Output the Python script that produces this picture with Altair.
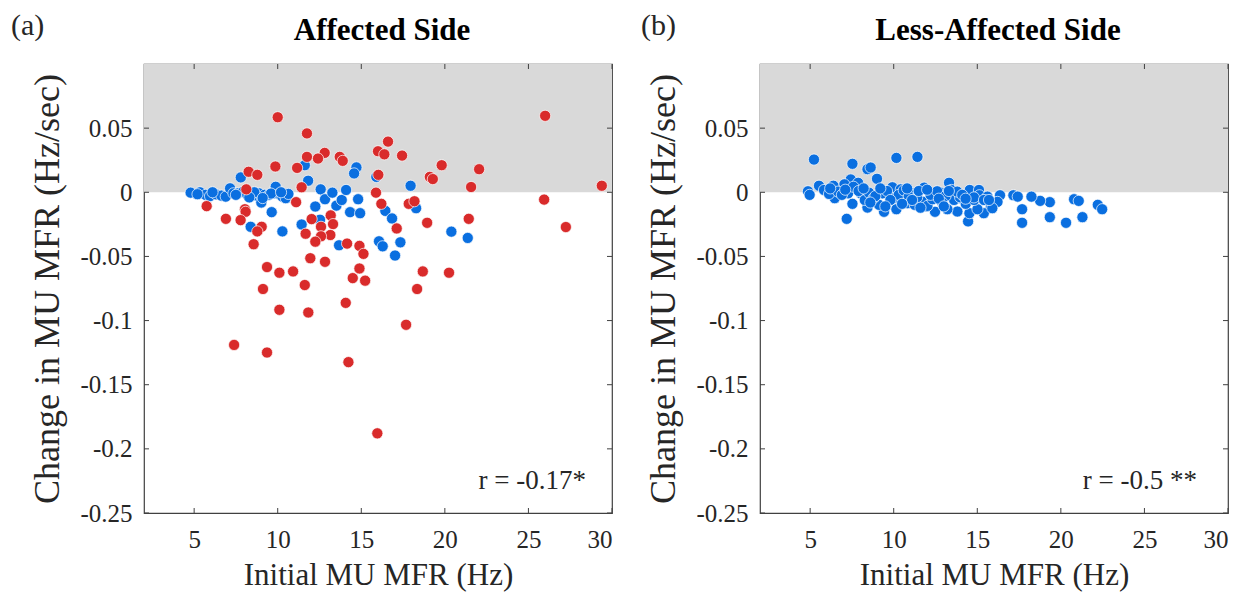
import altair as alt
import pandas as pd

# ---------------- data ----------------
x_ticks = [5, 10, 15, 20, 25, 30]
y_ticks = [0.05, 0, -0.05, -0.1, -0.15, -0.2, -0.25]

aff_red_x = [10.0, 11.75, 26.0, 16.6, 16.0, 16.38, 17.44, 12.81, 11.75, 12.41, 13.71, 13.89, 9.86, 11.16,
             19.81, 22.05, 8.26, 8.78, 16.02, 19.1, 19.28, 11.43, 8.12, 21.57, 29.39, 15.88, 25.94, 11.1,
             5.75, 16.2, 17.84, 18.18, 8.04, 8.08, 13.17, 6.9, 7.78, 21.43, 12.03, 13.31, 18.94, 9.04,
             8.78, 12.59, 27.24, 17.12, 11.67, 13.15, 12.59, 12.25, 8.56, 14.15, 14.89, 15.13, 11.95,
             12.83, 9.36, 10.1, 10.92, 14.89, 14.49, 15.23, 11.62, 18.68, 20.25, 9.12, 18.34, 14.07,
             10.1, 11.83, 17.68, 7.39, 9.36, 14.23, 15.96]
aff_red_y = [0.0585, 0.0459, 0.0596, 0.0395, 0.032, 0.0296, 0.0286, 0.0307, 0.0276, 0.0263, 0.0276, 0.0245,
             0.0201, 0.019, 0.0211, 0.018, 0.016, 0.0136, 0.0136, 0.012, 0.0103, 0.0039, 0.0023, 0.0041,
             0.0051, -0.0003, -0.0057, -0.0077, -0.0108, -0.009, -0.009, -0.007, -0.0132, -0.0152, -0.018,
             -0.0207, -0.0217, -0.0207, -0.0209, -0.0248, -0.0238, -0.0269, -0.0305, -0.0269, -0.0271,
             -0.0282, -0.0323, -0.0333, -0.0343, -0.0385, -0.0405, -0.04, -0.0418, -0.048, -0.0514,
             -0.0542, -0.0583, -0.0627, -0.0617, -0.0594, -0.0669, -0.0689, -0.0723, -0.0617, -0.0627,
             -0.0754, -0.0754, -0.0862, -0.0916, -0.0937, -0.1033, -0.119, -0.1249, -0.1324, -0.1879]

aff_blue_x = [4.79, 5.35, 5.69, 5.95, 6.31, 6.63, 6.89, 7.15, 7.35, 7.63, 7.79, 7.94, 8.18, 8.48, 8.74,
              8.88, 9.02, 9.22, 9.48, 9.64, 9.78, 9.88, 10.08, 10.28, 10.48, 10.64, 10.28, 8.38, 11.62,
              11.82, 12.57, 12.83, 13.27, 12.25, 12.53, 13.51, 13.83, 14.09, 14.33, 14.81, 14.93, 14.71,
              14.57, 11.43, 13.67, 16.06, 17.95, 16.44, 16.84, 18.28, 20.39, 21.37, 16.28, 17.34, 17.02,
              15.9, 5.2, 6.1, 7.5, 8.6, 9.6, 10.2, 8.3, 9.1]
aff_blue_y = [-0.0003, 0.0, -0.002, -0.003, -0.0016, -0.0026, -0.0034, 0.0031, -0.0008, -0.0008, 0.0116,
              0.0005, -0.002, -0.0008, -0.0026, -0.0008, -0.008, -0.002, -0.002, -0.0155, -0.0008, 0.0043,
              -0.0013, -0.0034, -0.0046, -0.0013, -0.0305, -0.0269, 0.0211, 0.009, 0.0023, -0.0054,
              -0.0003, -0.0111, -0.0214, -0.0104, -0.006, 0.0018, -0.0155, -0.0054, -0.0163, 0.0194,
              0.0147, -0.0251, -0.0413, -0.0382, 0.0051, -0.0145, -0.0204, -0.0124, -0.0307, -0.0356,
              -0.0421, -0.039, -0.0493, 0.012, -0.0015, 0.0, -0.002, 0.0, -0.001, 0.0, -0.004, -0.0045]

less_blue_x = [5.23, 7.53, 8.43, 8.62, 10.16, 11.42, 9.0, 13.31, 7.43, 7.05, 5.53, 6.39, 7.87, 7.19,
               14.45, 17.68, 20.31, 19.34, 21.29, 17.68, 22.21, 22.47, 20.79, 21.07, 19.34, 18.76, 18.24,
               17.16, 17.42, 16.36, 15.81, 15.39, 14.53, 13.81, 13.21, 12.47, 9.42, 8.43, 10.16, 4.87,
               4.97, 6.47, 7.53, 9.12, 10.82, 11.96, 14.55, 15.1, 15.13, 15.61, 16.21, 13.95, 14.31,
               15.01, 5.83, 6.13, 6.67, 7.27, 7.59, 8.03, 8.27, 8.52, 8.79, 9.33, 9.92, 10.02, 10.42,
               11.02, 11.26, 11.72, 11.82, 12.02, 12.32, 12.81, 13.45, 13.61, 13.97, 14.81, 15.9, 6.9,
               7.9, 8.9, 9.6, 10.3, 10.6, 11.4, 11.5, 12.2, 12.6, 13.1, 13.8, 14.1, 14.8, 15.4, 9.8,
               10.9, 12.9, 8.2, 7.1, 6.2, 9.2, 10.8, 12.0, 13.3, 11.1, 12.7, 14.3, 8.6, 9.5, 11.6, 10.5,
               13.0, 15.7]
less_blue_y = [0.0255, 0.0222, 0.018, 0.0193, 0.0268, 0.0276, 0.0105, 0.0074, 0.01, 0.0062, 0.0051,
               0.0051, 0.0074, -0.0207, -0.0227, -0.0238, -0.0238, -0.0194, -0.0194, -0.0132, -0.0098,
               -0.0132, -0.0054, -0.0067, -0.0077, -0.0067, -0.0034, -0.0023, -0.0034, -0.0023, -0.0116,
               -0.0163, -0.0163, -0.015, -0.0132, -0.0152, -0.0152, -0.0119, -0.0132, 0.0008, -0.002,
               -0.0046, -0.009, -0.0098, -0.0085, -0.0111, 0.0018, 0.0018, -0.0023, -0.0034, -0.0075,
               -0.0046, -0.009, -0.0132, 0.0018, -0.0013, 0.0005, -0.0008, 0.0043, -0.0008, -0.006,
               -0.0003, -0.0046, -0.0008, 0.0039, -0.0046, 0.0023, -0.0003, -0.0098, -0.0073, 0.0036,
               -0.0106, -0.0054, -0.0003, 0.0018, -0.006, -0.0039, -0.006, -0.0124, -0.002, 0.001,
               -0.003, 0.001, -0.002, 0.0015, -0.004, 0.001, -0.002, 0.0008, -0.003, 0.0005, -0.002,
               -0.004, -0.006, -0.006, -0.0035, -0.008, 0.003, 0.002, 0.003, 0.003, 0.003, 0.002, 0.001,
               -0.006, -0.005, -0.005, -0.008, -0.011, -0.012, -0.009, -0.011, -0.006]

# ---------------- style ----------------
W, H = 468, 449
FONT = "Liberation Serif"
TXT = "#262626"
BOX = "#404040"
RED = "#D92B2B"
BLUE = "#0A6FE0"
SHADE = "#D9D9D9"

xs = alt.Scale(domain=[2, 30], nice=False, zero=False)
ys = alt.Scale(domain=[-0.25, 0.1], nice=False, zero=False)

x_axis = alt.Axis(values=x_ticks, format="d", title="Initial MU MFR (Hz)", grid=False, domain=False,
                  ticks=False, tickSize=0, labelPadding=14, labelFont=FONT, labelFontSize=25,
                  labelColor=TXT, titleFont=FONT, titleFontSize=31, titleFontWeight="normal",
                  titleColor=TXT, titlePadding=8)
y_axis = alt.Axis(values=y_ticks, labelExpr="datum.value + ''", title="Change in MU MFR (Hz/sec)",
                  grid=False, domain=False, ticks=False, tickSize=0, labelPadding=12, labelFont=FONT,
                  labelFontSize=25, labelColor=TXT, titleFont=FONT, titleFontSize=36,
                  titleFontWeight="normal", titleColor=TXT, titleX=-97, titleY=H / 2,
                  titleAlign="center", titleBaseline="middle", labelOverlap=False)

dummy = pd.DataFrame({"a": [0]})


def panel(series, title, letter, letter_x, title_dx, rtext, r_right):
    shade = alt.Chart(pd.DataFrame({"x": [2], "x2": [30], "y": [0], "y2": [0.1]})).mark_rect(
        color=SHADE).encode(
        x=alt.X("x:Q", scale=xs, axis=x_axis), x2="x2:Q",
        y=alt.Y("y:Q", scale=ys, axis=y_axis), y2="y2:Q")
    layers = [shade]
    for xv, yv, col in series:
        df = pd.DataFrame({"x": xv, "y": yv})
        layers.append(alt.Chart(df).mark_circle(size=125, opacity=1, color=col, stroke="white",
                                                strokeWidth=0.7).encode(
            x=alt.X("x:Q", scale=xs, axis=x_axis), y=alt.Y("y:Q", scale=ys, axis=y_axis)))
    xt = pd.DataFrame({"x": x_ticks})
    yt = pd.DataFrame({"y": y_ticks})
    layers.append(alt.Chart(xt).mark_rule(color=BOX, strokeWidth=1).encode(
        x=alt.X("x:Q", scale=xs, axis=x_axis), y=alt.value(H), y2=alt.value(H - 5)))
    layers.append(alt.Chart(xt).mark_rule(color=BOX, strokeWidth=1).encode(
        x=alt.X("x:Q", scale=xs, axis=x_axis), y=alt.value(0), y2=alt.value(5)))
    layers.append(alt.Chart(yt).mark_rule(color=BOX, strokeWidth=1).encode(
        y=alt.Y("y:Q", scale=ys, axis=y_axis), x=alt.value(0), x2=alt.value(5)))
    layers.append(alt.Chart(yt).mark_rule(color=BOX, strokeWidth=1).encode(
        y=alt.Y("y:Q", scale=ys, axis=y_axis), x=alt.value(W), x2=alt.value(W - 5)))
    layers.append(alt.Chart(dummy).mark_text(font=FONT, fontSize=31, fontWeight="bold", color="black",
                                             align="center", baseline="alphabetic").encode(
        x=alt.value(W / 2 + title_dx), y=alt.value(-24), text=alt.value(title)))
    layers.append(alt.Chart(dummy).mark_text(font=FONT, fontSize=30, color=TXT, align="left",
                                             baseline="alphabetic").encode(
        x=alt.value(letter_x), y=alt.value(-29), text=alt.value(letter)))
    layers.append(alt.Chart(dummy).mark_text(font=FONT, fontSize=27, color=TXT, align="right",
                                             baseline="alphabetic").encode(
        x=alt.value(W - r_right), y=alt.value(425), text=alt.value(rtext)))
    return alt.layer(*layers).properties(width=W, height=H)


left = panel([(aff_blue_x, aff_blue_y, BLUE), (aff_red_x, aff_red_y, RED)],
             "Affected Side", "(a)", -133, 4, "r = -0.17*", 26)
right = panel([(less_blue_x, less_blue_y, BLUE)],
              "Less-Affected Side", "(b)", -119, 4, "r = -0.5 **", 31)

chart = alt.hconcat(left, right, spacing=148, bounds="flush").properties(
    padding={"left": 2, "top": 2, "right": 5, "bottom": 5},
).configure_view(stroke=BOX, strokeWidth=1.2)

chart.save("out.html", embed_options={"renderer": "svg", "actions": False})
